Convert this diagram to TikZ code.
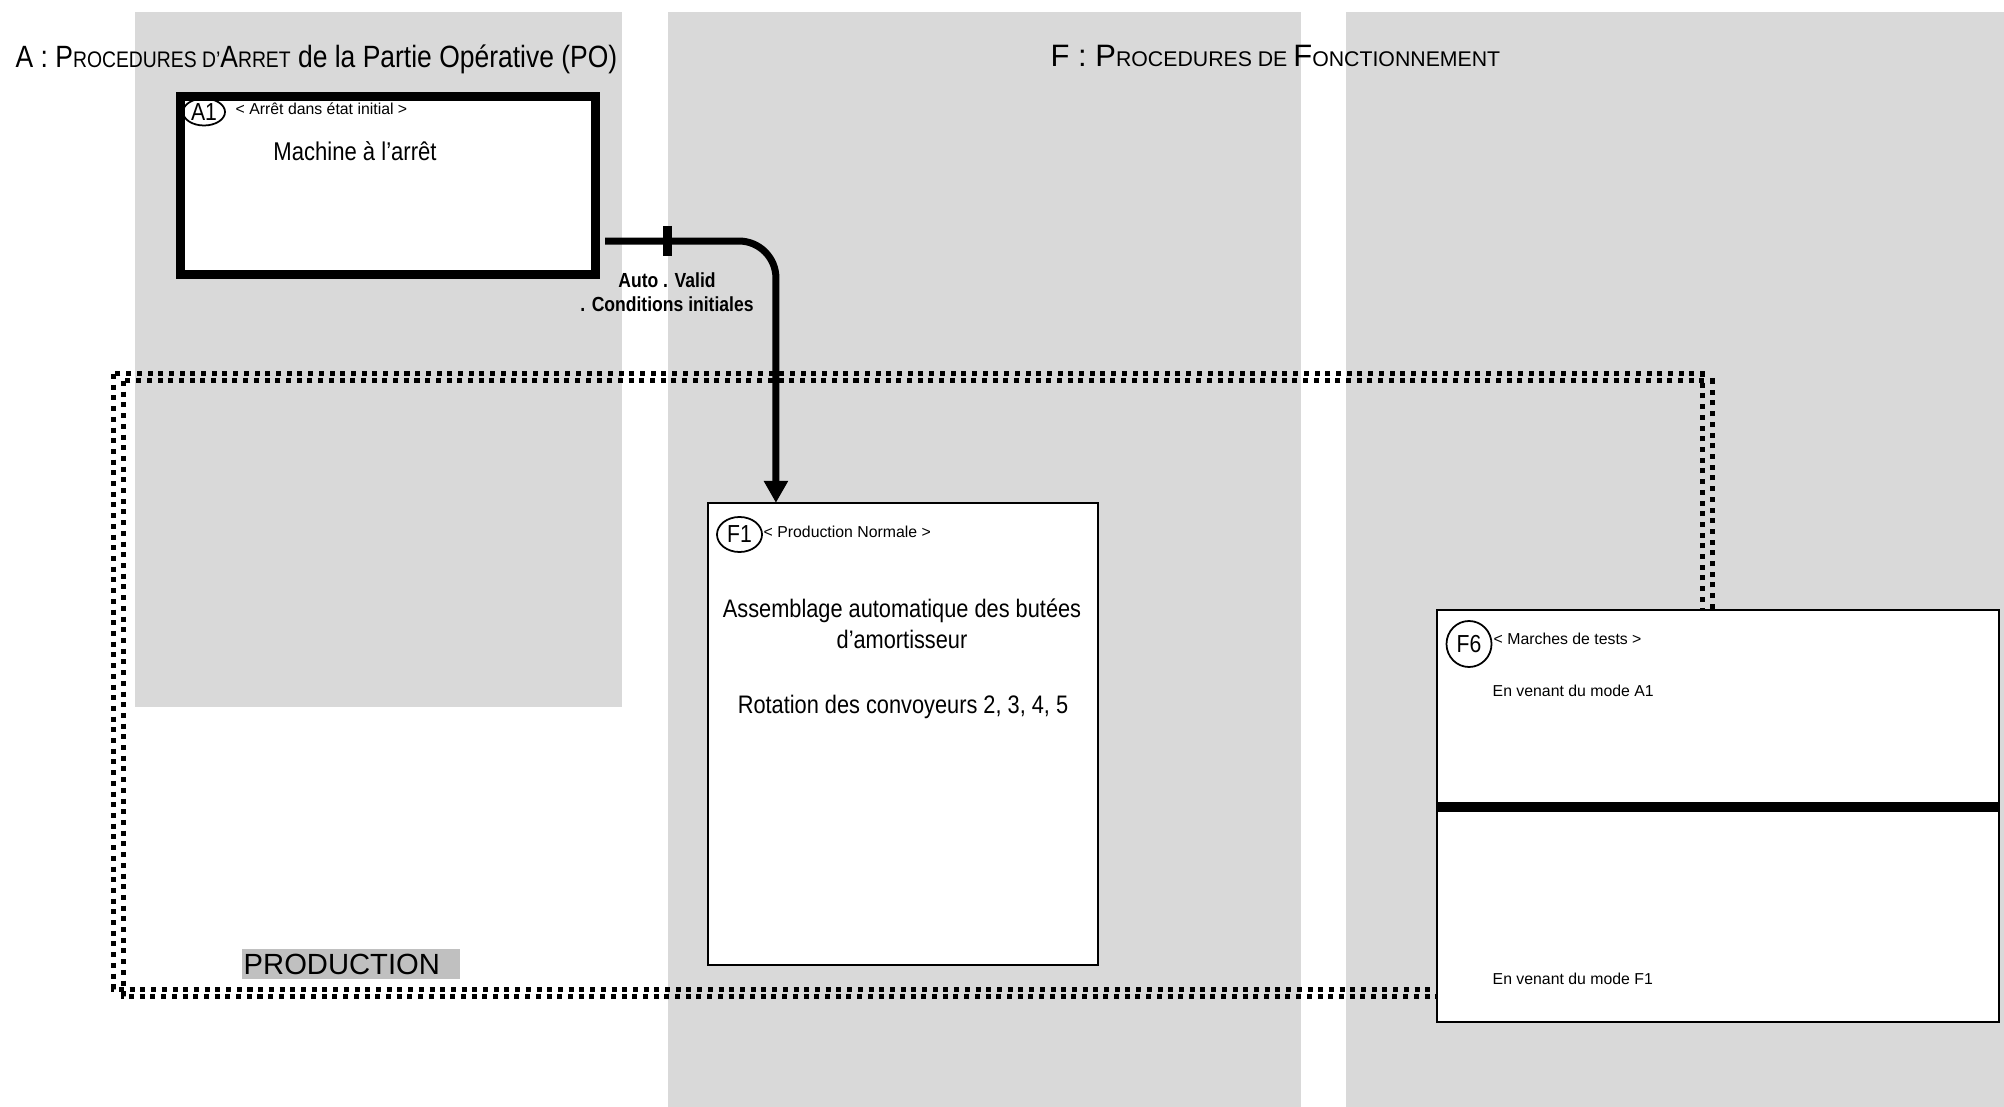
\documentclass[tikz,border=0pt]{standalone}
\usepackage{fontspec}
\setmainfont{Liberation Sans}
\newfontfamily\narrowfont[FakeStretch=0.86]{Liberation Sans}
\usetikzlibrary{shapes.geometric,arrows.meta,positioning}
\definecolor{colgray}{RGB}{217,217,217}
\definecolor{labelgray}{RGB}{192,192,192}
\newcommand\petitcap[2]{{\fontsize{#1}{#1}\selectfont #2}}

\begin{document}
\begin{tikzpicture}[x=0.01cm,y=-0.01cm]
    \tikzstyle{column}=[fill=colgray,draw=none]
    \tikzstyle{mode}=[draw,fill=white,inner sep=0pt,outer sep=0pt,line width=0.025cm]
    \tikzstyle{initial mode}=[mode,line width=0.09cm]
    \tikzstyle{tag}=[ellipse,draw,line width=0.5pt,inner sep=0pt,font=\narrowfont\fontsize{7}{8}\selectfont]
    \tikzstyle{modename}=[anchor=base west,inner sep=0pt,font=\fontsize{4.5}{5}\selectfont]
    \tikzstyle{action}=[anchor=base,inner sep=0pt,font=\narrowfont\fontsize{7.2}{8}\selectfont]
    \tikzstyle{cond}=[anchor=base,inner sep=0pt,font=\narrowfont\bfseries\fontsize{5.8}{7}\selectfont]
    \tikzstyle{transition}=[line width=0.07cm,rounded corners=0.37cm,-{Triangle[length=0.22cm,width=0.23cm]}]
    \tikzstyle{dotframe}=[line width=0.05cm,dash pattern=on 0.05cm off 0.057cm]
    \tikzstyle{prodlabel}=[fill=labelgray,anchor=west,inner xsep=0.02cm,inner ysep=0pt,font=\fontsize{8.3}{9}\selectfont]

    \useasboundingbox (0,0) rectangle (2004,1107);

    % grey columns
    \fill[column] (135,12) rectangle (622,707);
    \fill[column] (668,12) rectangle (1301,1107);
    \fill[column] (1346,12) rectangle (2004,1107);

    % titles
    \node[anchor=base west,inner sep=0pt,font=\narrowfont\fontsize{8.75}{10}\selectfont] (titleA) at (15,68)
        {A : P\petitcap{6.4}{ROCEDURES D’}A\petitcap{6.4}{RRET} de la Partie Opérative (PO)};
    \node[anchor=base west,inner sep=0pt,font=\fontsize{8.8}{10}\selectfont] (titleF) at (1050,67)
        {F : P\petitcap{6.05}{ROCEDURES DE }F\petitcap{6.05}{ONCTIONNEMENT}};

    % production enclosure
    \foreach \dx/\dy in {0/0,10/7}
        \draw[dotframe] (113+\dx,374+\dy) rectangle (1702+\dx,989+\dy);
    \node[prodlabel,text width=2.14cm,minimum height=0.30cm] (prod) at (241,964) {PRODUCTION};

    % modes
    \node[initial mode,minimum width=4.15cm,minimum height=1.78cm] (A1) at (388,185.5) {};
    \node[mode,minimum width=3.90cm,minimum height=4.62cm] (F1) at (903,734) {};
    \node[mode,minimum width=5.62cm,minimum height=4.12cm] (F6) at (1718,816) {};
    \coordinate (F6sep) at (1718,807);
    \draw[line width=0.1cm] (F6.west |- F6sep) -- (F6.east |- F6sep);

    \node[tag,minimum width=0.42cm,minimum height=0.27cm] (A1-tag) at (204,112) {A1};
    \node[modename] (A1-name) at (235,115) {< Arrêt dans état initial >};
    \node[action,font=\narrowfont\fontsize{7.3}{8}\selectfont] (A1-text) at (355,161) {Machine à l’arrêt};

    \node[tag,minimum width=0.45cm,minimum height=0.35cm] (F1-tag) at (739.5,534.5) {F1};
    \node[modename] (F1-name) at (763,538) {< Production Normale >};
    \node[action] (F1-text1) at (902,618) {Assemblage automatique des butées};
    \node[action] (F1-text2) at (902,649) {d’amortisseur};
    \node[action] (F1-text3) at (903,713) {Rotation des convoyeurs 2, 3, 4, 5};

    \node[tag,minimum width=0.45cm,minimum height=0.46cm] (F6-tag) at (1469,644) {F6};
    \node[modename] (F6-name) at (1493,645) {< Marches de tests >};
    \node[modename] (F6-text1) at (1492,696) {En venant du mode A1};
    \node[modename] (F6-text2) at (1492,984) {En venant du mode F1};

    % transition A1 -> F1
    \draw[transition] ([shift={(0.095cm,-0.555cm)}]A1.east) -| ([xshift=-1.27cm]F1.north);
    \coordinate (tick) at (667,241);
    \draw[line width=0.09cm] ([yshift=0.15cm]tick) -- ([yshift=-0.15cm]tick);
    \node[cond] (cond1) at (667,288) {Auto . Valid};
    \node[cond] (cond2) at (667,312) {. Conditions initiales};

\end{tikzpicture}
\end{document}
